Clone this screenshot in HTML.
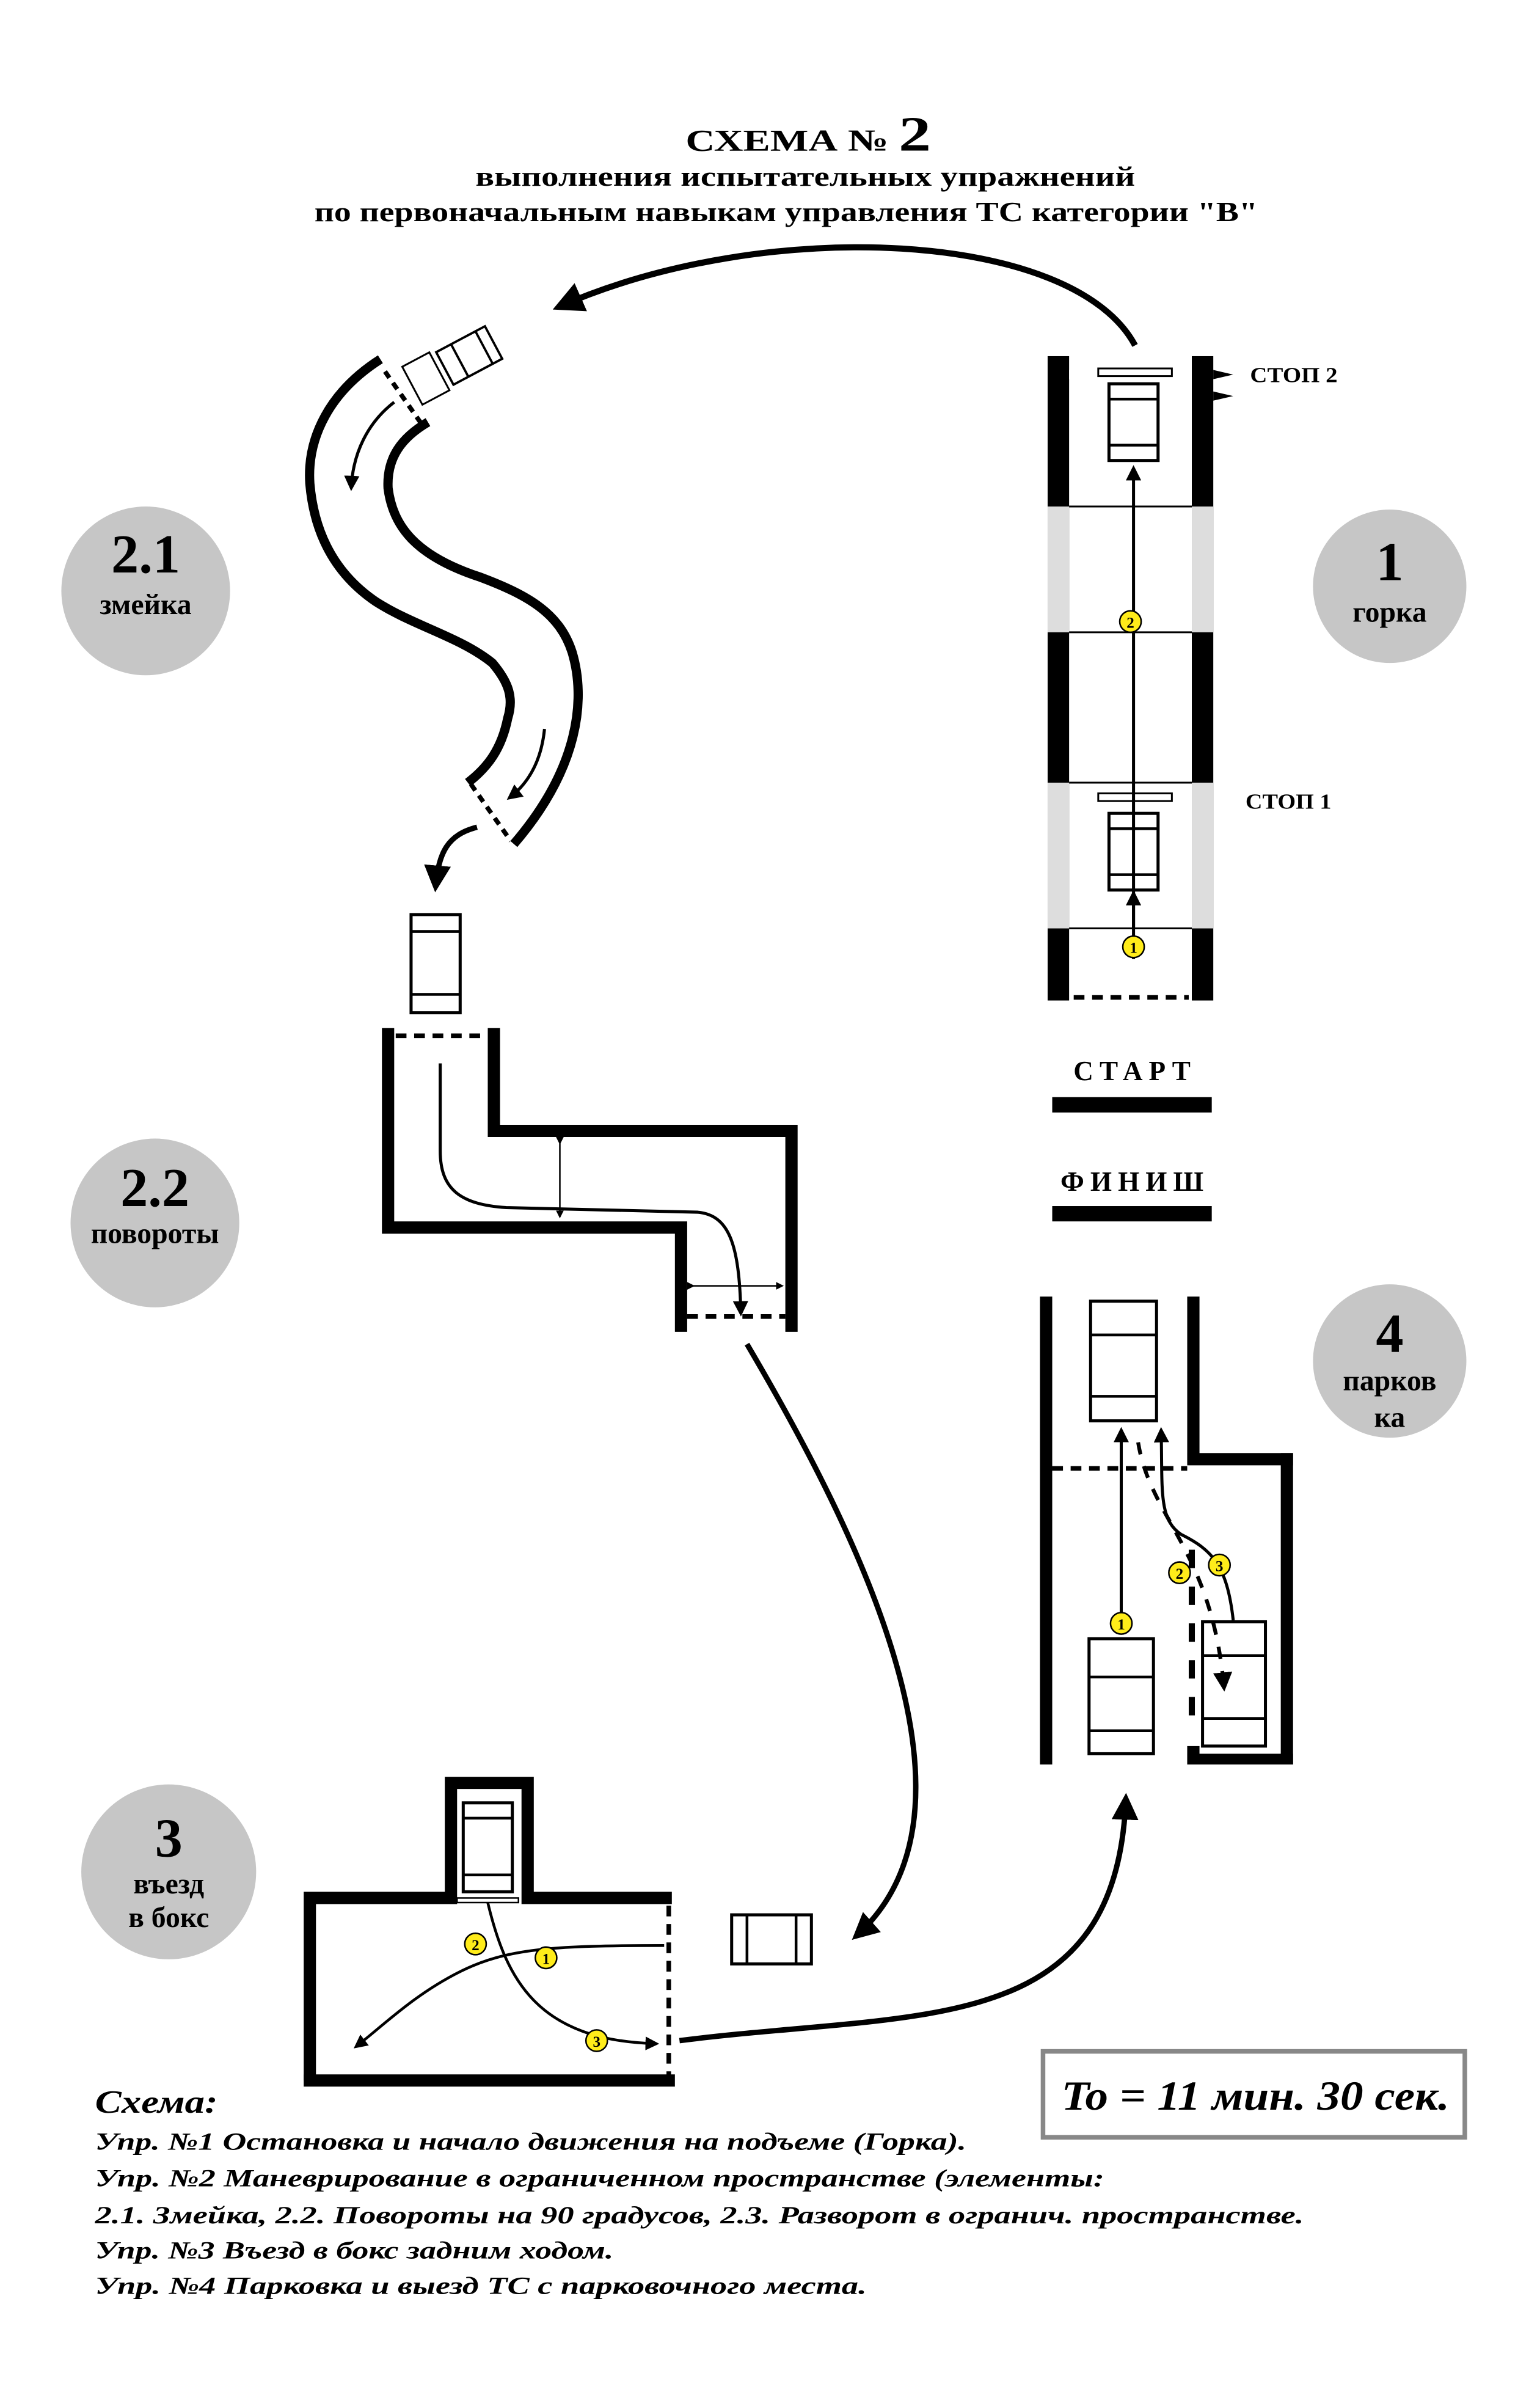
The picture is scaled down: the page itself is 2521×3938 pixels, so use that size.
<!DOCTYPE html>
<html><head><meta charset="utf-8"><style>
html,body{margin:0;padding:0;background:#fff;}
svg{display:block;}
text{font-family:"Liberation Serif","DejaVu Serif",serif;font-weight:bold;}
</style></head><body>
<svg width="2521" height="3938" viewBox="0 0 1004 1568" xmlns="http://www.w3.org/2000/svg">
<defs>
<marker id="ah" viewBox="0 0 10 10" refX="8" refY="5" markerWidth="5" markerHeight="5" orient="auto"><path d="M0,0 L10,5 L0,10 z" fill="#000"/></marker>
</defs>

<!-- Title -->
<text x="447" y="98" font-size="20" textLength="160" lengthAdjust="spacingAndGlyphs">СХЕМА № <tspan font-size="32">2</tspan></text>
<text x="310" y="121" font-size="18" textLength="430" lengthAdjust="spacingAndGlyphs">выполнения испытательных упражнений</text>
<text x="205" y="144" font-size="18" textLength="615" lengthAdjust="spacingAndGlyphs">по первоначальным навыкам управления ТС категории "В"</text>

<!-- top curved arrow -->
<path d="M740,225 C700,150 500,140 364,200" fill="none" stroke="#000" stroke-width="4" marker-end="url(#ah)"/>

<!-- Gorka -->
<rect x="683" y="232" width="14" height="420" fill="#000"/>
<rect x="777" y="232" width="14" height="420" fill="#000"/>
<rect x="683" y="330" width="14" height="82" fill="#ddd"/>
<rect x="777" y="330" width="14" height="82" fill="#ddd"/>
<rect x="683" y="510" width="14" height="95" fill="#ddd"/>
<rect x="777" y="510" width="14" height="95" fill="#ddd"/>
<g stroke="#000" stroke-width="1.2">
<line x1="697" y1="330" x2="777" y2="330"/><line x1="697" y1="412" x2="777" y2="412"/>
<line x1="697" y1="510" x2="777" y2="510"/><line x1="697" y1="605" x2="777" y2="605"/>
</g>
<line x1="700" y1="650" x2="775" y2="650" stroke="#000" stroke-width="3" stroke-dasharray="7,5"/>
<rect x="716" y="240" width="48" height="5" fill="#fff" stroke="#000" stroke-width="1.2"/>
<rect x="716" y="517" width="48" height="5" fill="#fff" stroke="#000" stroke-width="1.2"/>
<rect x="723" y="250" width="32" height="50" fill="#fff" stroke="#000" stroke-width="2"/>
<line x1="723" y1="260" x2="755" y2="260" stroke="#000" stroke-width="1.8"/><line x1="723" y1="290" x2="755" y2="290" stroke="#000" stroke-width="1.8"/>
<rect x="723" y="530" width="32" height="50" fill="#fff" stroke="#000" stroke-width="2"/>
<line x1="723" y1="540" x2="755" y2="540" stroke="#000" stroke-width="1.8"/><line x1="723" y1="570" x2="755" y2="570" stroke="#000" stroke-width="1.8"/>
<line x1="739" y1="605" x2="739" y2="305" stroke="#000" stroke-width="2" marker-end="url(#ah)"/>
<line x1="739" y1="625" x2="739" y2="582" stroke="#000" stroke-width="2" marker-end="url(#ah)"/>
<circle cx="739" cy="617" r="7" fill="#ffec1a" stroke="#000"/><text x="739" y="621" text-anchor="middle" font-size="10">1</text>
<circle cx="737" cy="405" r="7" fill="#ffec1a" stroke="#000"/><text x="737" y="409" text-anchor="middle" font-size="10">2</text>
<polygon points="697,241 712,244 697,247" fill="#fff"/>
<polygon points="791,241 804,244 791,247" fill="#000"/>
<polygon points="791,255 804,258 791,261" fill="#000"/>
<text x="815" y="249" font-size="14" textLength="57" lengthAdjust="spacingAndGlyphs">СТОП 2</text>
<text x="812" y="527" font-size="14" textLength="56" lengthAdjust="spacingAndGlyphs">СТОП 1</text>

<!-- circles -->
<circle cx="906" cy="382" r="50" fill="#c6c6c6"/>
<text x="906" y="378" text-anchor="middle" font-size="36">1</text>
<text x="906" y="405" text-anchor="middle" font-size="19">горка</text>
<circle cx="95" cy="385" r="55" fill="#c6c6c6"/>
<text x="95" y="373" text-anchor="middle" font-size="36">2.1</text>
<text x="95" y="400" text-anchor="middle" font-size="19">змейка</text>
<circle cx="101" cy="797" r="55" fill="#c6c6c6"/>
<text x="101" y="786" text-anchor="middle" font-size="36">2.2</text>
<text x="101" y="810" text-anchor="middle" font-size="19">повороты</text>
<circle cx="110" cy="1220" r="57" fill="#c6c6c6"/>
<text x="110" y="1210" text-anchor="middle" font-size="36">3</text>
<text x="110" y="1234" text-anchor="middle" font-size="19">въезд</text>
<text x="110" y="1256" text-anchor="middle" font-size="19">в бокс</text>
<circle cx="906" cy="887" r="50" fill="#c6c6c6"/>
<text x="906" y="881" text-anchor="middle" font-size="36">4</text>
<text x="906" y="906" text-anchor="middle" font-size="19">парков</text>
<text x="906" y="930" text-anchor="middle" font-size="19">ка</text>

<!-- start / finish -->
<text x="740" y="704" text-anchor="middle" font-size="18" letter-spacing="4">СТАРТ</text>
<rect x="686" y="715" width="104" height="10" fill="#000"/>
<text x="740" y="776" text-anchor="middle" font-size="18" letter-spacing="4">ФИНИШ</text>
<rect x="686" y="786" width="104" height="10" fill="#000"/>

<!-- Snake -->
<path d="M248,234 C215,255 200,285 202,315 C205,350 220,375 245,392 C270,408 300,415 321,432 C332,445 335,455 331,468 C327,488 318,500 305,510" fill="none" stroke="#000" stroke-width="6"/>
<path d="M279,275 C262,285 252,298 253,318 C256,342 270,362 313,376 C345,388 365,400 373,425 C382,455 378,500 335,550" fill="none" stroke="#000" stroke-width="6"/>
<line x1="251" y1="242" x2="274" y2="275" stroke="#000" stroke-width="3" stroke-dasharray="5,4"/>
<line x1="307" y1="511" x2="333" y2="548" stroke="#000" stroke-width="3" stroke-dasharray="5,4"/>
<g transform="translate(290,240) rotate(-28)">
<rect x="-24" y="-14" width="20" height="28" fill="#fff" stroke="#000" stroke-width="1.2"/>
<rect x="0" y="-12" width="36" height="24" fill="#fff" stroke="#000" stroke-width="1.5"/>
<line x1="11" y1="-12" x2="11" y2="12" stroke="#000" stroke-width="1.5"/>
<line x1="29" y1="-12" x2="29" y2="12" stroke="#000" stroke-width="1.5"/>
</g>
<path d="M257,262 C240,275 230,295 229,318" fill="none" stroke="#000" stroke-width="2" marker-end="url(#ah)"/>
<path d="M355,475 C353,495 345,510 332,520" fill="none" stroke="#000" stroke-width="2" marker-end="url(#ah)"/>
<path d="M311,539 C292,544 286,555 284,578" fill="none" stroke="#000" stroke-width="3.5" marker-end="url(#ah)"/>

<!-- 2.2 -->
<rect x="268" y="596" width="32" height="64" fill="#fff" stroke="#000" stroke-width="2"/>
<line x1="268" y1="607" x2="300" y2="607" stroke="#000" stroke-width="1.8"/>
<line x1="268" y1="648" x2="300" y2="648" stroke="#000" stroke-width="1.8"/>
<g fill="none" stroke="#000" stroke-width="8">
<path d="M253,670 L253,800 L444,800 L444,868"/>
<path d="M322,670 L322,737 L516,737 L516,868"/>
</g>
<line x1="258" y1="675" x2="318" y2="675" stroke="#000" stroke-width="3" stroke-dasharray="7,5"/>
<line x1="448" y1="858" x2="512" y2="858" stroke="#000" stroke-width="3" stroke-dasharray="7,5"/>
<path d="M287,693 L287,750 C287,775 300,785 330,787 L455,790 C475,792 482,810 483,856" fill="none" stroke="#000" stroke-width="2" marker-end="url(#ah)"/>
<line x1="365" y1="745" x2="365" y2="793" stroke="#000" stroke-width="1" marker-start="url(#ah)" marker-end="url(#ah)"/>
<line x1="452" y1="838" x2="510" y2="838" stroke="#000" stroke-width="1" marker-start="url(#ah)" marker-end="url(#ah)"/>

<!-- long arrows -->
<path d="M487,876 C560,1000 650,1180 558,1262" fill="none" stroke="#000" stroke-width="3.5" marker-end="url(#ah)"/>
<path d="M443,1330 C600,1310 728,1330 734,1172" fill="none" stroke="#000" stroke-width="3.5" marker-end="url(#ah)"/>

<!-- 3 -->
<g fill="none" stroke="#000" stroke-width="8">
<path d="M202,1356 L202,1237 L294,1237 L294,1162 L344,1162 L344,1237 L438,1237"/>
<path d="M198,1356 L440,1356"/>
</g>
<line x1="436" y1="1242" x2="436" y2="1356" stroke="#000" stroke-width="3" stroke-dasharray="7,5"/>
<rect x="302" y="1175" width="32" height="58" fill="#fff" stroke="#000" stroke-width="2"/>
<line x1="302" y1="1185" x2="334" y2="1185" stroke="#000" stroke-width="1.8"/>
<line x1="302" y1="1222" x2="334" y2="1222" stroke="#000" stroke-width="1.8"/>
<rect x="298" y="1237" width="40" height="3" fill="#fff" stroke="#000"/>
<rect x="477" y="1248" width="52" height="32" fill="#fff" stroke="#000" stroke-width="2"/>
<line x1="487" y1="1248" x2="487" y2="1280" stroke="#000" stroke-width="1.8"/>
<line x1="519" y1="1248" x2="519" y2="1280" stroke="#000" stroke-width="1.8"/>
<path d="M433,1268 C360,1268 330,1270 300,1285 C270,1300 250,1320 232,1334" fill="none" stroke="#000" stroke-width="1.8" marker-end="url(#ah)"/>
<path d="M318,1240 C330,1290 350,1330 428,1332" fill="none" stroke="#000" stroke-width="1.8" marker-end="url(#ah)"/>
<circle cx="310" cy="1267" r="7" fill="#ffec1a" stroke="#000"/><text x="310" y="1271" text-anchor="middle" font-size="10">2</text>
<circle cx="356" cy="1276" r="7" fill="#ffec1a" stroke="#000"/><text x="356" y="1280" text-anchor="middle" font-size="10">1</text>
<circle cx="389" cy="1330" r="7" fill="#ffec1a" stroke="#000"/><text x="389" y="1334" text-anchor="middle" font-size="10">3</text>

<!-- 4 -->
<rect x="678" y="845" width="8" height="305" fill="#000"/>
<rect x="774" y="845" width="8" height="108" fill="#000"/>
<rect x="774" y="947" width="69" height="8" fill="#000"/>
<rect x="835" y="947" width="8" height="203" fill="#000"/>
<rect x="774" y="1143" width="69" height="7" fill="#000"/>
<rect x="774" y="1138" width="8" height="12" fill="#000"/>
<line x1="686" y1="957" x2="774" y2="957" stroke="#000" stroke-width="3" stroke-dasharray="7,5"/>
<line x1="777" y1="1010" x2="777" y2="1130" stroke="#000" stroke-width="4" stroke-dasharray="12,12"/>
<rect x="711" y="848" width="43" height="78" fill="#fff" stroke="#000" stroke-width="2"/>
<line x1="711" y1="870" x2="754" y2="870" stroke="#000" stroke-width="1.8"/><line x1="711" y1="910" x2="754" y2="910" stroke="#000" stroke-width="1.8"/>
<rect x="710" y="1068" width="42" height="75" fill="#fff" stroke="#000" stroke-width="2"/>
<line x1="710" y1="1093" x2="752" y2="1093" stroke="#000" stroke-width="1.8"/><line x1="710" y1="1128" x2="752" y2="1128" stroke="#000" stroke-width="1.8"/>
<rect x="784" y="1057" width="41" height="81" fill="#fff" stroke="#000" stroke-width="2"/>
<line x1="784" y1="1079" x2="825" y2="1079" stroke="#000" stroke-width="1.8"/><line x1="784" y1="1120" x2="825" y2="1120" stroke="#000" stroke-width="1.8"/>
<line x1="731" y1="1058" x2="731" y2="932" stroke="#000" stroke-width="2" marker-end="url(#ah)"/>
<path d="M742,940 C750,990 790,1010 798,1100" fill="none" stroke="#000" stroke-width="2.5" stroke-dasharray="8,8" marker-end="url(#ah)"/>
<path d="M804,1056 C800,1020 790,1010 770,1000 C755,990 758,970 757,932" fill="none" stroke="#000" stroke-width="2" marker-end="url(#ah)"/>
<circle cx="731" cy="1058" r="7" fill="#ffec1a" stroke="#000"/><text x="731" y="1062" text-anchor="middle" font-size="10">1</text>
<circle cx="769" cy="1025" r="7" fill="#ffec1a" stroke="#000"/><text x="769" y="1029" text-anchor="middle" font-size="10">2</text>
<circle cx="795" cy="1020" r="7" fill="#ffec1a" stroke="#000"/><text x="795" y="1024" text-anchor="middle" font-size="10">3</text>

<!-- To box -->
<rect x="680" y="1337" width="275" height="56" fill="#fff" stroke="#888" stroke-width="3"/>
<text x="692" y="1375" font-size="27" font-style="italic" textLength="253" lengthAdjust="spacingAndGlyphs">To = 11 мин. 30 сек.</text>

<!-- Legend -->
<g font-style="italic" lengthAdjust="spacingAndGlyphs">
<text x="62" y="1377" font-size="21" textLength="80" lengthAdjust="spacingAndGlyphs">Схема:</text>
<text x="62" y="1401" font-size="16" textLength="568" lengthAdjust="spacingAndGlyphs">Упр. №1 Остановка и начало движения на подъеме (Горка).</text>
<text x="62" y="1425" font-size="16" textLength="658" lengthAdjust="spacingAndGlyphs">Упр. №2 Маневрирование в ограниченном пространстве (элементы:</text>
<text x="62" y="1449" font-size="16" textLength="788" lengthAdjust="spacingAndGlyphs">2.1. Змейка, 2.2. Повороты на 90 градусов, 2.3. Разворот в огранич. пространстве.</text>
<text x="62" y="1472" font-size="16" textLength="338" lengthAdjust="spacingAndGlyphs">Упр. №3 Въезд в бокс задним ходом.</text>
<text x="62" y="1495" font-size="16" textLength="503" lengthAdjust="spacingAndGlyphs">Упр. №4 Парковка и выезд ТС с парковочного места.</text>
</g>
</svg>
</body></html>
